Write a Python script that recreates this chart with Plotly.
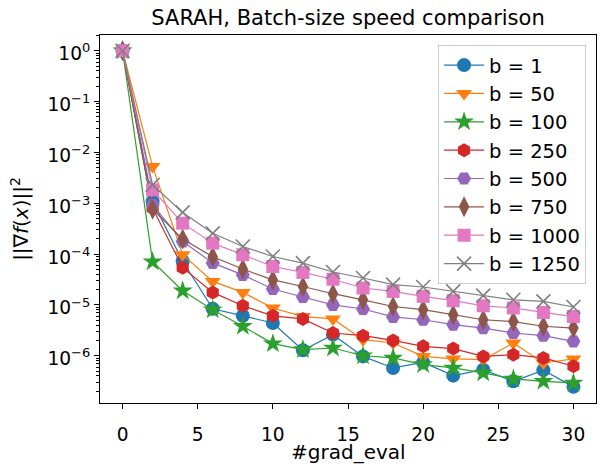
import plotly.graph_objects as go

grad_eval = [0, 2, 4, 6, 8, 10, 12, 14, 16, 18, 20, 22, 24, 26, 28, 30]

b1 = [1.0, 1.08e-3, 7.2e-5, 8.4e-6, 6.1e-6, 4.4e-6, 1.28e-6, 2.6e-6,
      9.7e-7, 5.75e-7, 7.4e-7, 4.06e-7, 5.3e-7, 3.14e-7, 5.2e-7, 2.44e-7]
b50 = [1.0, 5.3e-3, 9.7e-5, 2.9e-5, 1.76e-5, 8.7e-6, 5.9e-6, 5.3e-6,
       2.07e-6, 1.78e-6, 9.7e-7, 8.65e-7, 8.4e-7, 1.78e-6, 7.2e-7, 8.65e-7]
b100 = [1.0, 7.06e-5, 1.9e-5, 8.05e-6, 3.8e-6, 1.73e-6, 1.32e-6, 1.42e-6,
        1.0e-6, 9.05e-7, 6.7e-7, 5.75e-7, 4.6e-7, 3.5e-7, 3.14e-7, 2.92e-7]
b250 = [1.0, 8.0e-4, 5.4e-5, 1.76e-5, 9.6e-6, 6.1e-6, 5.3e-6, 2.8e-6,
        2.48e-6, 2.0e-6, 1.53e-6, 1.38e-6, 9.7e-7, 1.05e-6, 9.05e-7, 6.2e-7]
b500 = [1.0, 9.3e-4, 1.77e-4, 6.7e-5, 3.9e-5, 2.05e-5, 1.43e-5, 1.0e-5,
        8.3e-6, 5.8e-6, 5.1e-6, 4.1e-6, 3.5e-6, 2.8e-6, 2.48e-6, 1.92e-6]
b750 = [1.0, 7.65e-4, 1.97e-4, 8.85e-5, 5.1e-5, 3.1e-5, 2.3e-5, 1.66e-5,
        1.26e-5, 9.3e-6, 8.05e-6, 6.4e-6, 5.1e-6, 4.7e-6, 3.8e-6, 3.5e-6]
b1000 = [1.0, 1.83e-3, 4.06e-4, 1.64e-4, 9.7e-5, 5.7e-5, 4.35e-5, 3.2e-5,
         2.15e-5, 1.84e-5, 1.47e-5, 1.21e-5, 9.6e-6, 8.7e-6, 7.1e-6, 5.9e-6]
b1250 = [1.0, 2.3e-3, 6.6e-4, 2.56e-4, 1.41e-4, 8.97e-5, 6.65e-5, 4.43e-5,
         3.38e-5, 2.5e-5, 2.25e-5, 1.84e-5, 1.52e-5, 1.26e-5, 1.17e-5, 9.1e-6]

labels = ["b = 1", "b = 50", "b = 100", "b = 250", "b = 500", "b = 750", "b = 1000", "b = 1250"]
series = [b1, b50, b100, b250, b500, b750, b1000, b1250]
colors = ["#1f77b4", "#ff7f0e", "#2ca02c", "#d62728", "#9467bd", "#8c564b", "#e377c2", "#7f7f7f"]
symbols = ["circle", "triangle-down", "star", "hexagon", "hexagon2", "diamond-tall", "square", "x-thin"]
sizes = [14, 14, 15, 14, 14, 15, 13, 14]

y_tickvals = [1, 1e-1, 1e-2, 1e-3, 1e-4, 1e-5, 1e-6]
y_ticktext = ["10<sup>0</sup>", "10<sup>−1</sup>", "10<sup>−2</sup>", "10<sup>−3</sup>",
              "10<sup>−4</sup>", "10<sup>−5</sup>", "10<sup>−6</sup>"]
minor_vals = [m * 10.0 ** e for e in range(-7, 1) for m in range(2, 10)]

fig = go.Figure()
for lab, ys, col, sym, sz in zip(labels, series, colors, symbols, sizes):
    marker = dict(symbol=sym, size=sz, color=col)
    if sym == "x-thin":
        marker["line"] = dict(color=col, width=1.6)
    else:
        marker["line"] = dict(width=0)
    fig.add_trace(go.Scatter(x=grad_eval, y=ys, mode="lines+markers", name=lab,
                             line=dict(color=col, width=1.2), marker=marker))

font = "DejaVu Sans"
fig.update_layout(
    width=609, height=469,
    margin=dict(l=100, r=13, t=35, b=66, autoexpand=False),
    paper_bgcolor="white", plot_bgcolor="white",
    font=dict(family=font, size=18.6, color="black"),
    title=dict(text="SARAH, Batch-size speed comparison", x=0.5, xref="paper", xanchor="center",
               y=1 - 18 / 469, yanchor="middle", font=dict(size=21)),
    showlegend=True,
    legend=dict(x=0.98, y=0.973, xanchor="right", yanchor="top", itemwidth=40,
                bordercolor="#cccccc", borderwidth=1, bgcolor="rgba(255,255,255,0.8)",
                font=dict(size=19.5)),
)
# x title as an annotation: the axis title sits too low once the tick labels are pushed down
fig.add_annotation(text="#grad_eval", xref="paper", yref="paper", x=0.5, y=-49 / 368,
                   xanchor="center", yanchor="middle", showarrow=False, font=dict(size=20))
fig.update_xaxes(range=[-1.5, 31.5], tickvals=[0, 5, 10, 15, 20, 25, 30],
                 ticks="outside", ticklen=5, tickcolor="black", showgrid=False,
                 zeroline=False, showline=True, linecolor="black", linewidth=1, mirror=True,
                 automargin=False, ticklabelstandoff=10)
fig.update_yaxes(type="log", range=[-6.93, 0.31], tickvals=y_tickvals, ticktext=y_ticktext,
                 ticks="outside", ticklen=5, tickcolor="black", showgrid=False,
                 zeroline=False, showline=True, linecolor="black", linewidth=1, mirror=True,
                 automargin=False, ticklabelshift=3,
                 minor=dict(tickvals=minor_vals, ticks="outside", ticklen=3, tickcolor="black", showgrid=False),
                 title=dict(text="||∇<i>f</i>(<i>x</i>)||<sup>2</sup>", standoff=13, font=dict(size=20)))

# drop the default 8px page margin so the figure sits at the window corner
fig.write_html("out.html", config={"displayModeBar": False},
               post_script="document.body.style.margin='0px';")
